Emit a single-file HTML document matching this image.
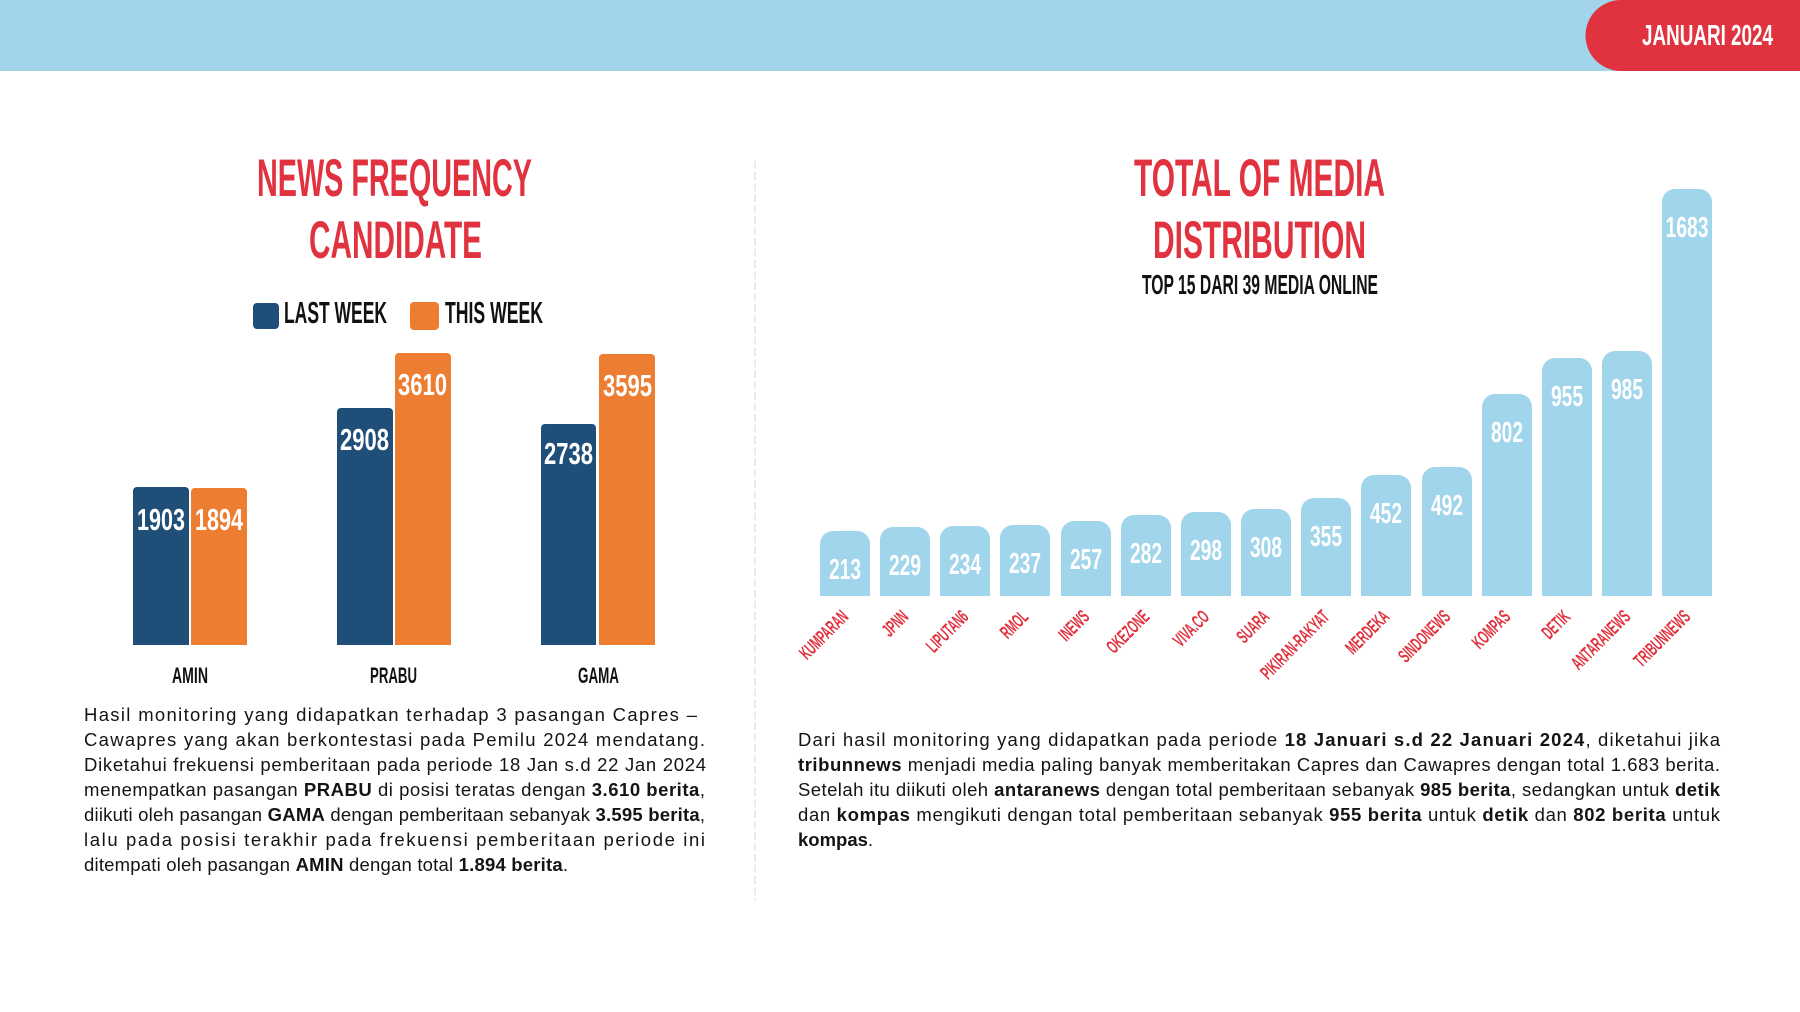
<!DOCTYPE html>
<html>
<head>
<meta charset="utf-8">
<style>
  html,body{margin:0;padding:0;background:#fff;}
  svg{display:block;}
  .cond{font-family:"Liberation Sans",Arial,sans-serif;font-weight:bold;}
  .para{font-family:"Liberation Sans",Arial,sans-serif;font-size:18.5px;fill:#141414;}
  .para tspan.b{font-weight:bold;}
</style>
</head>
<body>
<svg width="1800" height="1012" viewBox="0 0 1800 1012" xmlns="http://www.w3.org/2000/svg">
  <rect x="0" y="0" width="1800" height="1012" fill="#ffffff"/>
  <!-- header -->
  <rect x="0" y="0" width="1800" height="71" fill="#a2d5ec"/>
  <path d="M1621,0 H1800 V71 H1621 A35.5,35.5 0 0 1 1621,0 Z" fill="#e1323f"/>
  <text class="cond" x="1642" y="45" font-size="29" fill="#ffffff" textLength="131" lengthAdjust="spacingAndGlyphs">JANUARI 2024</text>

  <!-- divider -->
  <line x1="755" y1="161" x2="755" y2="900" stroke="#e4e4e4" stroke-width="1.5" stroke-dasharray="8,3"/>

  <!-- LEFT TITLE -->
  <text class="cond" x="257" y="196" font-size="53" fill="#e1323f" textLength="275" lengthAdjust="spacingAndGlyphs">NEWS FREQUENCY</text>
  <text class="cond" x="309" y="258" font-size="53" fill="#e1323f" textLength="173" lengthAdjust="spacingAndGlyphs">CANDIDATE</text>

  <!-- legend -->
  <rect x="253" y="303" width="26" height="26" rx="4" fill="#1f4e79"/>
  <text class="cond" x="284" y="323" font-size="31" fill="#111" textLength="103" lengthAdjust="spacingAndGlyphs">LAST WEEK</text>
  <rect x="410" y="302" width="29" height="28" rx="4" fill="#ed7d31"/>
  <text class="cond" x="445" y="323" font-size="31" fill="#111" textLength="98" lengthAdjust="spacingAndGlyphs">THIS WEEK</text>

  <!-- left bars -->
  <path d="M133,645 V491 A4,4 0 0 1 137,487 H185 A4,4 0 0 1 189,491 V645 Z" fill="#1f4e79"/>
  <path d="M191,645 V492 A4,4 0 0 1 195,488 H243 A4,4 0 0 1 247,492 V645 Z" fill="#ed7d31"/>
  <path d="M337,645 V412 A4,4 0 0 1 341,408 H389 A4,4 0 0 1 393,412 V645 Z" fill="#1f4e79"/>
  <path d="M395,645 V357 A4,4 0 0 1 399,353 H447 A4,4 0 0 1 451,357 V645 Z" fill="#ed7d31"/>
  <path d="M541,645 V428 A4,4 0 0 1 545,424 H592 A4,4 0 0 1 596,428 V645 Z" fill="#1f4e79"/>
  <path d="M599,645 V358 A4,4 0 0 1 603,354 H651 A4,4 0 0 1 655,358 V645 Z" fill="#ed7d31"/>

  <g class="cond" font-size="31" fill="#ffffff">
    <text x="137" y="530" textLength="48" lengthAdjust="spacingAndGlyphs">1903</text>
    <text x="195" y="530" textLength="48" lengthAdjust="spacingAndGlyphs">1894</text>
    <text x="340" y="450" textLength="49" lengthAdjust="spacingAndGlyphs">2908</text>
    <text x="398" y="395" textLength="49" lengthAdjust="spacingAndGlyphs">3610</text>
    <text x="544" y="464" textLength="49" lengthAdjust="spacingAndGlyphs">2738</text>
    <text x="603" y="396" textLength="49" lengthAdjust="spacingAndGlyphs">3595</text>
  </g>

  <g class="cond" font-size="22" fill="#111">
    <text x="172" y="683" textLength="36" lengthAdjust="spacingAndGlyphs">AMIN</text>
    <text x="370" y="683" textLength="47" lengthAdjust="spacingAndGlyphs">PRABU</text>
    <text x="578" y="683" textLength="41" lengthAdjust="spacingAndGlyphs">GAMA</text>
  </g>

  <!-- left paragraph -->
  <g class="para">
    <text x="84" y="721" textLength="613" lengthAdjust="spacing">Hasil monitoring yang didapatkan terhadap 3 pasangan Capres –</text>
    <text x="84" y="746" textLength="621" lengthAdjust="spacing">Cawapres yang akan berkontestasi pada Pemilu 2024 mendatang.</text>
    <text x="84" y="771" textLength="622" lengthAdjust="spacing">Diketahui frekuensi pemberitaan pada periode 18 Jan s.d 22 Jan 2024</text>
    <text x="84" y="796" textLength="621" lengthAdjust="spacing">menempatkan pasangan <tspan class="b">PRABU</tspan> di posisi teratas dengan <tspan class="b">3.610 berita</tspan>,</text>
    <text x="84" y="821" textLength="621" lengthAdjust="spacing">diikuti oleh pasangan <tspan class="b">GAMA</tspan> dengan pemberitaan sebanyak <tspan class="b">3.595 berita</tspan>,</text>
    <text x="84" y="846" textLength="621" lengthAdjust="spacing">lalu pada posisi terakhir pada frekuensi pemberitaan periode ini</text>
    <text x="84" y="871" textLength="484" lengthAdjust="spacing">ditempati oleh pasangan <tspan class="b">AMIN</tspan> dengan total <tspan class="b">1.894 berita</tspan>.</text>
  </g>

  <!-- RIGHT TITLE -->
  <text class="cond" x="1134" y="196" font-size="53" fill="#e1323f" textLength="251" lengthAdjust="spacingAndGlyphs">TOTAL OF MEDIA</text>
  <text class="cond" x="1153" y="258" font-size="53" fill="#e1323f" textLength="213" lengthAdjust="spacingAndGlyphs">DISTRIBUTION</text>
  <text class="cond" x="1142" y="294" font-size="28" fill="#111" textLength="236" lengthAdjust="spacingAndGlyphs">TOP 15 DARI 39 MEDIA ONLINE</text>

  <!-- right bars -->
  <g fill="#a0d5eb">
    <path d="M820,596 V544 A13,13 0 0 1 833,531 H857 A13,13 0 0 1 870,544 V596 Z"/>
    <path d="M880,596 V540 A13,13 0 0 1 893,527 H917 A13,13 0 0 1 930,540 V596 Z"/>
    <path d="M940,596 V539 A13,13 0 0 1 953,526 H977 A13,13 0 0 1 990,539 V596 Z"/>
    <path d="M1000,596 V538 A13,13 0 0 1 1013,525 H1037 A13,13 0 0 1 1050,538 V596 Z"/>
    <path d="M1061,596 V534 A13,13 0 0 1 1074,521 H1098 A13,13 0 0 1 1111,534 V596 Z"/>
    <path d="M1121,596 V528 A13,13 0 0 1 1134,515 H1158 A13,13 0 0 1 1171,528 V596 Z"/>
    <path d="M1181,596 V525 A13,13 0 0 1 1194,512 H1218 A13,13 0 0 1 1231,525 V596 Z"/>
    <path d="M1241,596 V522 A13,13 0 0 1 1254,509 H1278 A13,13 0 0 1 1291,522 V596 Z"/>
    <path d="M1301,596 V511 A13,13 0 0 1 1314,498 H1338 A13,13 0 0 1 1351,511 V596 Z"/>
    <path d="M1361,596 V488 A13,13 0 0 1 1374,475 H1398 A13,13 0 0 1 1411,488 V596 Z"/>
    <path d="M1422,596 V480 A13,13 0 0 1 1435,467 H1459 A13,13 0 0 1 1472,480 V596 Z"/>
    <path d="M1482,596 V407 A13,13 0 0 1 1495,394 H1519 A13,13 0 0 1 1532,407 V596 Z"/>
    <path d="M1542,596 V371 A13,13 0 0 1 1555,358 H1579 A13,13 0 0 1 1592,371 V596 Z"/>
    <path d="M1602,596 V364 A13,13 0 0 1 1615,351 H1639 A13,13 0 0 1 1652,364 V596 Z"/>
    <path d="M1662,596 V202 A13,13 0 0 1 1675,189 H1699 A13,13 0 0 1 1712,202 V596 Z"/>
  </g>

  <g class="cond" font-size="29" fill="#ffffff">
    <text x="829" y="579" textLength="32" lengthAdjust="spacingAndGlyphs">213</text>
    <text x="889" y="575" textLength="32" lengthAdjust="spacingAndGlyphs">229</text>
    <text x="949" y="574" textLength="32" lengthAdjust="spacingAndGlyphs">234</text>
    <text x="1009" y="573" textLength="32" lengthAdjust="spacingAndGlyphs">237</text>
    <text x="1070" y="569" textLength="32" lengthAdjust="spacingAndGlyphs">257</text>
    <text x="1130" y="563" textLength="32" lengthAdjust="spacingAndGlyphs">282</text>
    <text x="1190" y="560" textLength="32" lengthAdjust="spacingAndGlyphs">298</text>
    <text x="1250" y="557" textLength="32" lengthAdjust="spacingAndGlyphs">308</text>
    <text x="1310" y="546" textLength="32" lengthAdjust="spacingAndGlyphs">355</text>
    <text x="1370" y="523" textLength="32" lengthAdjust="spacingAndGlyphs">452</text>
    <text x="1431" y="515" textLength="32" lengthAdjust="spacingAndGlyphs">492</text>
    <text x="1491" y="442" textLength="32" lengthAdjust="spacingAndGlyphs">802</text>
    <text x="1551" y="406" textLength="32" lengthAdjust="spacingAndGlyphs">955</text>
    <text x="1611" y="399" textLength="32" lengthAdjust="spacingAndGlyphs">985</text>
    <text x="1665.5" y="237" textLength="43" lengthAdjust="spacingAndGlyphs">1683</text>
  </g>

  <!-- rotated x labels -->
  <g class="cond" font-size="19" fill="#e1323f" text-anchor="end">
    <g transform="translate(849.5,618) rotate(-45) scale(0.55,1)"><text x="0" y="0">KUMPARAN</text></g>
    <g transform="translate(909.5,618) rotate(-45) scale(0.55,1)"><text x="0" y="0">JPNN</text></g>
    <g transform="translate(969.5,618) rotate(-45) scale(0.55,1)"><text x="0" y="0">LIPUTAN6</text></g>
    <g transform="translate(1029.5,618) rotate(-45) scale(0.55,1)"><text x="0" y="0">RMOL</text></g>
    <g transform="translate(1090.5,618) rotate(-45) scale(0.55,1)"><text x="0" y="0">INEWS</text></g>
    <g transform="translate(1150.5,618) rotate(-45) scale(0.55,1)"><text x="0" y="0">OKEZONE</text></g>
    <g transform="translate(1210.5,618) rotate(-45) scale(0.55,1)"><text x="0" y="0">VIVA.CO</text></g>
    <g transform="translate(1270.5,618) rotate(-45) scale(0.55,1)"><text x="0" y="0">SUARA</text></g>
    <g transform="translate(1330.5,618) rotate(-45) scale(0.55,1)"><text x="0" y="0">PIKIRAN-RAKYAT</text></g>
    <g transform="translate(1390.5,618) rotate(-45) scale(0.55,1)"><text x="0" y="0">MERDEKA</text></g>
    <g transform="translate(1451.5,618) rotate(-45) scale(0.55,1)"><text x="0" y="0">SINDONEWS</text></g>
    <g transform="translate(1511.5,618) rotate(-45) scale(0.55,1)"><text x="0" y="0">KOMPAS</text></g>
    <g transform="translate(1571.5,618) rotate(-45) scale(0.55,1)"><text x="0" y="0">DETIK</text></g>
    <g transform="translate(1631.5,618) rotate(-45) scale(0.55,1)"><text x="0" y="0">ANTARANEWS</text></g>
    <g transform="translate(1691.5,618) rotate(-45) scale(0.55,1)"><text x="0" y="0">TRIBUNNEWS</text></g>
  </g>

  <!-- right paragraph -->
  <g class="para">
    <text x="798" y="746" textLength="922" lengthAdjust="spacing">Dari hasil monitoring yang didapatkan pada periode <tspan class="b">18 Januari s.d 22 Januari 2024</tspan>, diketahui jika</text>
    <text x="798" y="771" textLength="922" lengthAdjust="spacing"><tspan class="b">tribunnews</tspan> menjadi media paling banyak memberitakan Capres dan Cawapres dengan total 1.683 berita.</text>
    <text x="798" y="796" textLength="922" lengthAdjust="spacing">Setelah itu diikuti oleh <tspan class="b">antaranews</tspan> dengan total pemberitaan sebanyak <tspan class="b">985 berita</tspan>, sedangkan untuk <tspan class="b">detik</tspan></text>
    <text x="798" y="821" textLength="922" lengthAdjust="spacing">dan <tspan class="b">kompas</tspan> mengikuti dengan total pemberitaan sebanyak <tspan class="b">955 berita</tspan> untuk <tspan class="b">detik</tspan> dan <tspan class="b">802 berita</tspan> untuk</text>
    <text x="798" y="846"><tspan class="b">kompas</tspan>.</text>
  </g>
</svg>
</body>
</html>
